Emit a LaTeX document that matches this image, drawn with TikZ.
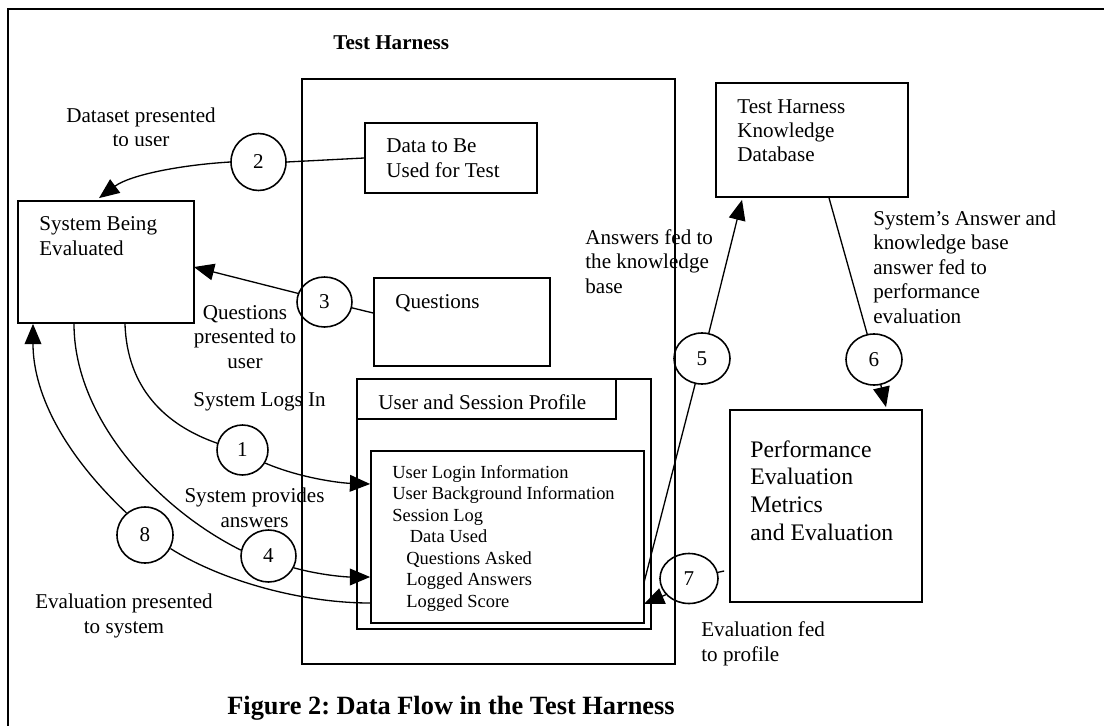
\documentclass[tikz,border=0pt]{standalone}
\usepackage{fontspec}
\setmainfont{Liberation Serif}
\usetikzlibrary{arrows.meta,shapes.geometric}
\frenchspacing
\begin{document}
\begin{tikzpicture}[x=0.02cm,y=-0.02cm,
  box/.style 2 args={draw, rectangle, line width=1pt, inner sep=0pt,
    minimum width=#1*0.02cm, minimum height=#2*0.02cm},
  bubble/.style 2 args={draw, ellipse, line width=0.9pt, inner sep=0pt,
    minimum width=#1*0.02cm, minimum height=#2*0.02cm,
    font=\fontsize{12}{14}\selectfont},
  lbl/.style={inner sep=0pt, align=left, font=\fontsize{12}{13.9}\selectfont},
  flow/.style={line width=0.75pt},
  arr/.style={flow, -{Triangle[length=11.5pt,width=9.5pt]}},
]
% multi-line texts are placed by the baseline of their last line
\useasboundingbox (0,0) rectangle (1104,726);
\fill[white] (0,0) rectangle (1104,726);

% page frame (top and left rule)
\draw[line width=1.2pt] (1104,9) -- (8,9) -- (8,726);

% boxes
\node[box={176}{122}] (sys) at (106,262) {};
\node[box={373}{585}, line width=1.2pt] (harness) at (488.5,371.5) {};
\node[box={172}{70}] (data) at (451,158) {};
\node[box={176}{88}] (quest) at (462,322) {};
\node[box={294}{250}] (prof) at (504,504) {};
\node[box={259}{40}] (tab) at (486.5,399) {};
\node[box={273}{172}] (inner) at (507.5,537) {};
\node[box={192}{114}] (kb) at (812,140) {};
\node[box={192}{192}] (perf) at (826,506) {};

% box texts
\node[lbl, anchor=base west] (sysT) at (39,255) {System Being\\Evaluated};
\node[lbl, anchor=base west] (dataT) at (386,177) {Data to Be\\Used for Test};
\node[lbl, anchor=base west] (questT) at (395,308) {Questions};
\node[lbl, anchor=base west] (tabT) at (378,409) {User and Session Profile};
\node[lbl, anchor=base west, font=\fontsize{10.5}{12.2}\selectfont] (innerT) at (392,607)
  {User Login Information\\User Background Information\\Session Log\\
   \hspace*{10pt}Data Used\\\hspace*{8pt}Questions Asked\\
   \hspace*{8pt}Logged Answers\\\hspace*{8pt}Logged Score};
\node[lbl, anchor=base west] (kbT) at (737,162) {Test Harness\\Knowledge\\Database};
\node[lbl, anchor=base west, font=\fontsize{13.5}{15.7}\selectfont] (perfT) at (750,540)
  {Performance\\Evaluation\\Metrics\\and Evaluation};

% titles
\node[lbl, anchor=base west, font=\fontsize{12}{13.9}\selectfont\bfseries] (title) at (333,50) {Test Harness};
\node[lbl, anchor=base west, font=\fontsize{15}{18}\selectfont\bfseries] (caption) at (227,714)
  {Figure 2: Data Flow in the Test Harness};

% numbered flow bubbles
\node[bubble={55}{57}] (c2) at (258.5,162) {2};
\node[bubble={55}{50}] (c3) at (324.5,302) {3};
\node[bubble={51}{50}] (c1) at (242.5,450) {1};
\node[bubble={56}{56}] (c8) at (145,535) {8};
\node[bubble={55}{52}] (c4) at (268.5,556) {4};
\node[bubble={56}{51}] (c5) at (702,358.5) {5};
\node[bubble={56}{51}] (c6) at (874,359.5) {6};
\node[bubble={58}{50}] (c7) at (689,578.5) {7};

% flows
\draw[flow] (c2.east) -- (data.west);
\draw[arr] (c2.west) .. controls (180,165) and (130,175) .. ([shift={(-7,-2)}]sys.north);
\draw[flow] (c3.-12) -- ([shift={(0,-9)}]quest.west);
\draw[arr] (c3.162) -- ([shift={(-1,5)}]sys.east);
\draw[flow] ([shift={(19,0)}]sys.south) .. controls (127,388) and (165,425) .. (c1.165);
\draw[arr] (c1.-30) .. controls (300,478) and (340,483) .. ([shift={(0,-53)}]inner.west);
\draw[flow] ([shift={(-32,0)}]sys.south) .. controls (74,420) and (160,510) .. (c4.168);
\draw[arr] (c4.-25) .. controls (320,575) and (345,577) .. ([shift={(0,40)}]inner.west);
\draw[flow] ([shift={(0,66)}]inner.west) .. controls (300,603) and (220,580) .. (c8.-28);
\draw[arr] (c8.130) .. controls (60,450) and (33,390) .. ([shift={(-73,0)}]sys.south);
\draw[flow] ([shift={(-1,46)}]inner.east) -- (c5.-105);
\draw[arr] (c5.75) -- ([shift={(-70,2)}]kb.south);
\draw[flow] ([shift={(17,0)}]kb.south) -- (c6.105);
\draw[arr] (c6.-75) -- ([shift={(60,-2)}]perf.north);
\draw[flow] (c7.12) -- ([shift={(-5,65)}]perf.west);
\draw[arr] (c7.-145) -- ([shift={(-1,67)}]inner.east);

% flow labels (the first one is cut off along its lower edge)
\begin{scope}
  \clip (0,0) rectangle (300,146);
  \node[lbl, align=center, anchor=base] (l2) at (141,147) {Dataset presented\\to user};
\end{scope}
\node[lbl, align=center, anchor=base] (l3) at (245,368) {Questions\\presented to\\user};
\node[lbl, anchor=base west] (l1) at (193,406) {System Logs In};
\node[lbl, align=center, anchor=base] (l4) at (254.5,527) {System provides\\answers};
\node[lbl, align=center, anchor=base] (l8) at (124,633) {Evaluation presented\\to system};
\node[lbl, anchor=base west] (l5) at (585,293) {Answers fed to\\the knowledge\\base};
\node[lbl, anchor=base west] (l6) at (873,323)
  {System’s Answer and\\knowledge base\\answer fed to\\performance\\evaluation};
\node[lbl, anchor=base west] (l7) at (701,661) {Evaluation fed\\to profile};
\end{tikzpicture}
\end{document}
